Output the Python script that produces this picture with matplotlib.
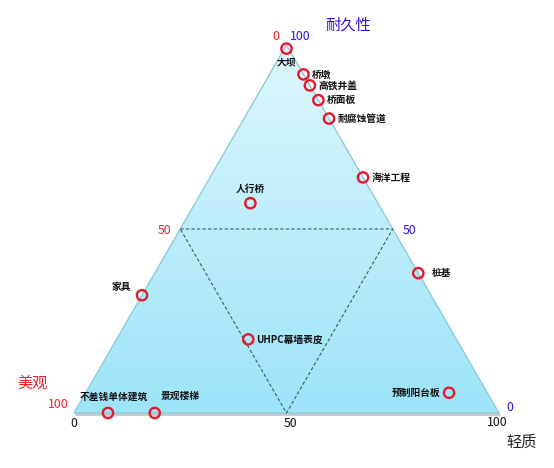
import numpy as np
import matplotlib
matplotlib.use('Agg')
import matplotlib.pyplot as plt
from matplotlib.patches import Polygon

plt.rcParams['font.family'] = ['Noto Sans CJK SC', 'DejaVu Sans']

# ternary data: durability (耐久性), lightness (轻质), aesthetics (美观)
names = ['大坝', '桥墩', '高铁井盖', '桥面板', '耐腐蚀管道', '海洋工程', '桩基',
         '预制阳台板', '人行桥', '家具', 'UHPC幕墙表皮', '不差钱单体建筑', '景观楼梯']
durability = [99, 92, 89, 85, 80, 64, 38, 5.5, 57, 32, 20, 0, 0]
lightness = [0.5, 8, 11, 15, 20, 36, 62, 85.5, 13, 0, 31, 8, 19]
aesthetics = [0.5, 0, 0, 0, 0, 0, 0, 9, 30, 68, 49, 92, 81]

# label placement (offset in points, alignment)
label_pos = [
    ((0, -10), 'center', 'center'),
    ((6, 0), 'left', 'center'),
    ((6, 0), 'left', 'center'),
    ((6, 0), 'left', 'center'),
    ((6, 0), 'left', 'center'),
    ((6, 0), 'left', 'center'),
    ((10, 0), 'left', 'center'),
    ((-6, 0), 'right', 'center'),
    ((0, 10), 'center', 'center'),
    ((-15, 6), 'center', 'center'),
    ((6, 0), 'left', 'center'),
    ((4, 12), 'center', 'center'),
    ((18, 12), 'center', 'center'),
]

h = np.sqrt(3) / 2
d = np.array(durability)
l = np.array(lightness)
px = l + d / 2
py = d * h

fig = plt.figure(figsize=(5.54, 4.68), dpi=100)
ax = fig.add_axes([0, 0, 1, 1])
s = 4.25
x0 = -74 / s
y0 = -55 / s
ax.set_xlim(x0, x0 + 554 / s)
ax.set_ylim(y0, y0 + 468 / s)
ax.set_axis_off()

# shadow under base
ax.plot([0.3, 100.3], [-0.35, -0.35], color='#c8c8c8', lw=2.0, zorder=1,
        solid_capstyle='butt')

tri = Polygon([[0, 0], [100, 0], [50, 100 * h]], closed=True,
              facecolor='none', edgecolor='#8ccbdc', lw=1.0, zorder=3)
ax.add_patch(tri)

# vertical gradient
top = np.array([222, 247, 253]) / 255
bot = np.array([156, 228, 248]) / 255
t = np.linspace(0, 1, 256)[:, None]
grad = (top[None, :] * (1 - t) + bot[None, :] * t)[:, None, :]
im = ax.imshow(grad, extent=[0, 100, 0, 100 * h], origin='upper',
               aspect='auto', zorder=2)
clip = Polygon([[0, 0], [100, 0], [50, 100 * h]], closed=True,
               transform=ax.transData)
im.set_clip_path(clip)

# dashed inner triangle
ax.plot([25, 75, 50, 25], [50 * h, 50 * h, 0, 50 * h], ls=(0, (3, 2)),
        color='#3a5a66', lw=0.8, zorder=3)

ax.scatter(px, py, s=55, facecolors='none', edgecolors='#e8182c',
           linewidths=1.7, zorder=5)

for i, name in enumerate(names):
    off, ha, va = label_pos[i]
    ax.annotate(name, (px[i], py[i]), xytext=off, textcoords='offset points',
                ha=ha, va=va, fontsize=7, fontweight='bold', color='#111111',
                zorder=6)

red = '#f0202a'
blue = '#3010d8'
fs = 8.8
# tick labels
ax.text(47.4, 102.3 * h, '0', color=red, fontsize=fs, ha='center', va='center')
ax.text(53.3, 102.3 * h, '100', color=blue, fontsize=fs, ha='center', va='center')
ax.text(23.0, 49.5 * h, '50', color=red, fontsize=fs, ha='right', va='center')
ax.text(77.3, 49.5 * h, '50', color=blue, fontsize=fs, ha='left', va='center')
ax.text(-1.3, 2.1, '100', color=red, fontsize=fs, ha='right', va='center')
ax.text(0, -2.4, '0', color='#111111', fontsize=fs, ha='center', va='center')
ax.text(51.0, -2.4, '50', color='#111111', fontsize=fs, ha='center', va='center')
ax.text(99.5, -2.2, '100', color='#111111', fontsize=fs, ha='center', va='center')
ax.text(102.5, 1.2, '0', color=blue, fontsize=fs, ha='center', va='center')

# axis titles
ax.text(64.5, 91.3, '耐久性', color=blue, fontsize=11, ha='center', va='center')
ax.text(-9.8, 7.0, '美观', color=red, fontsize=11, ha='center', va='center')
ax.text(105.4, -7.0, '轻质', color='#222222', fontsize=11, ha='center', va='center')

fig.savefig('out.png', dpi=100)
